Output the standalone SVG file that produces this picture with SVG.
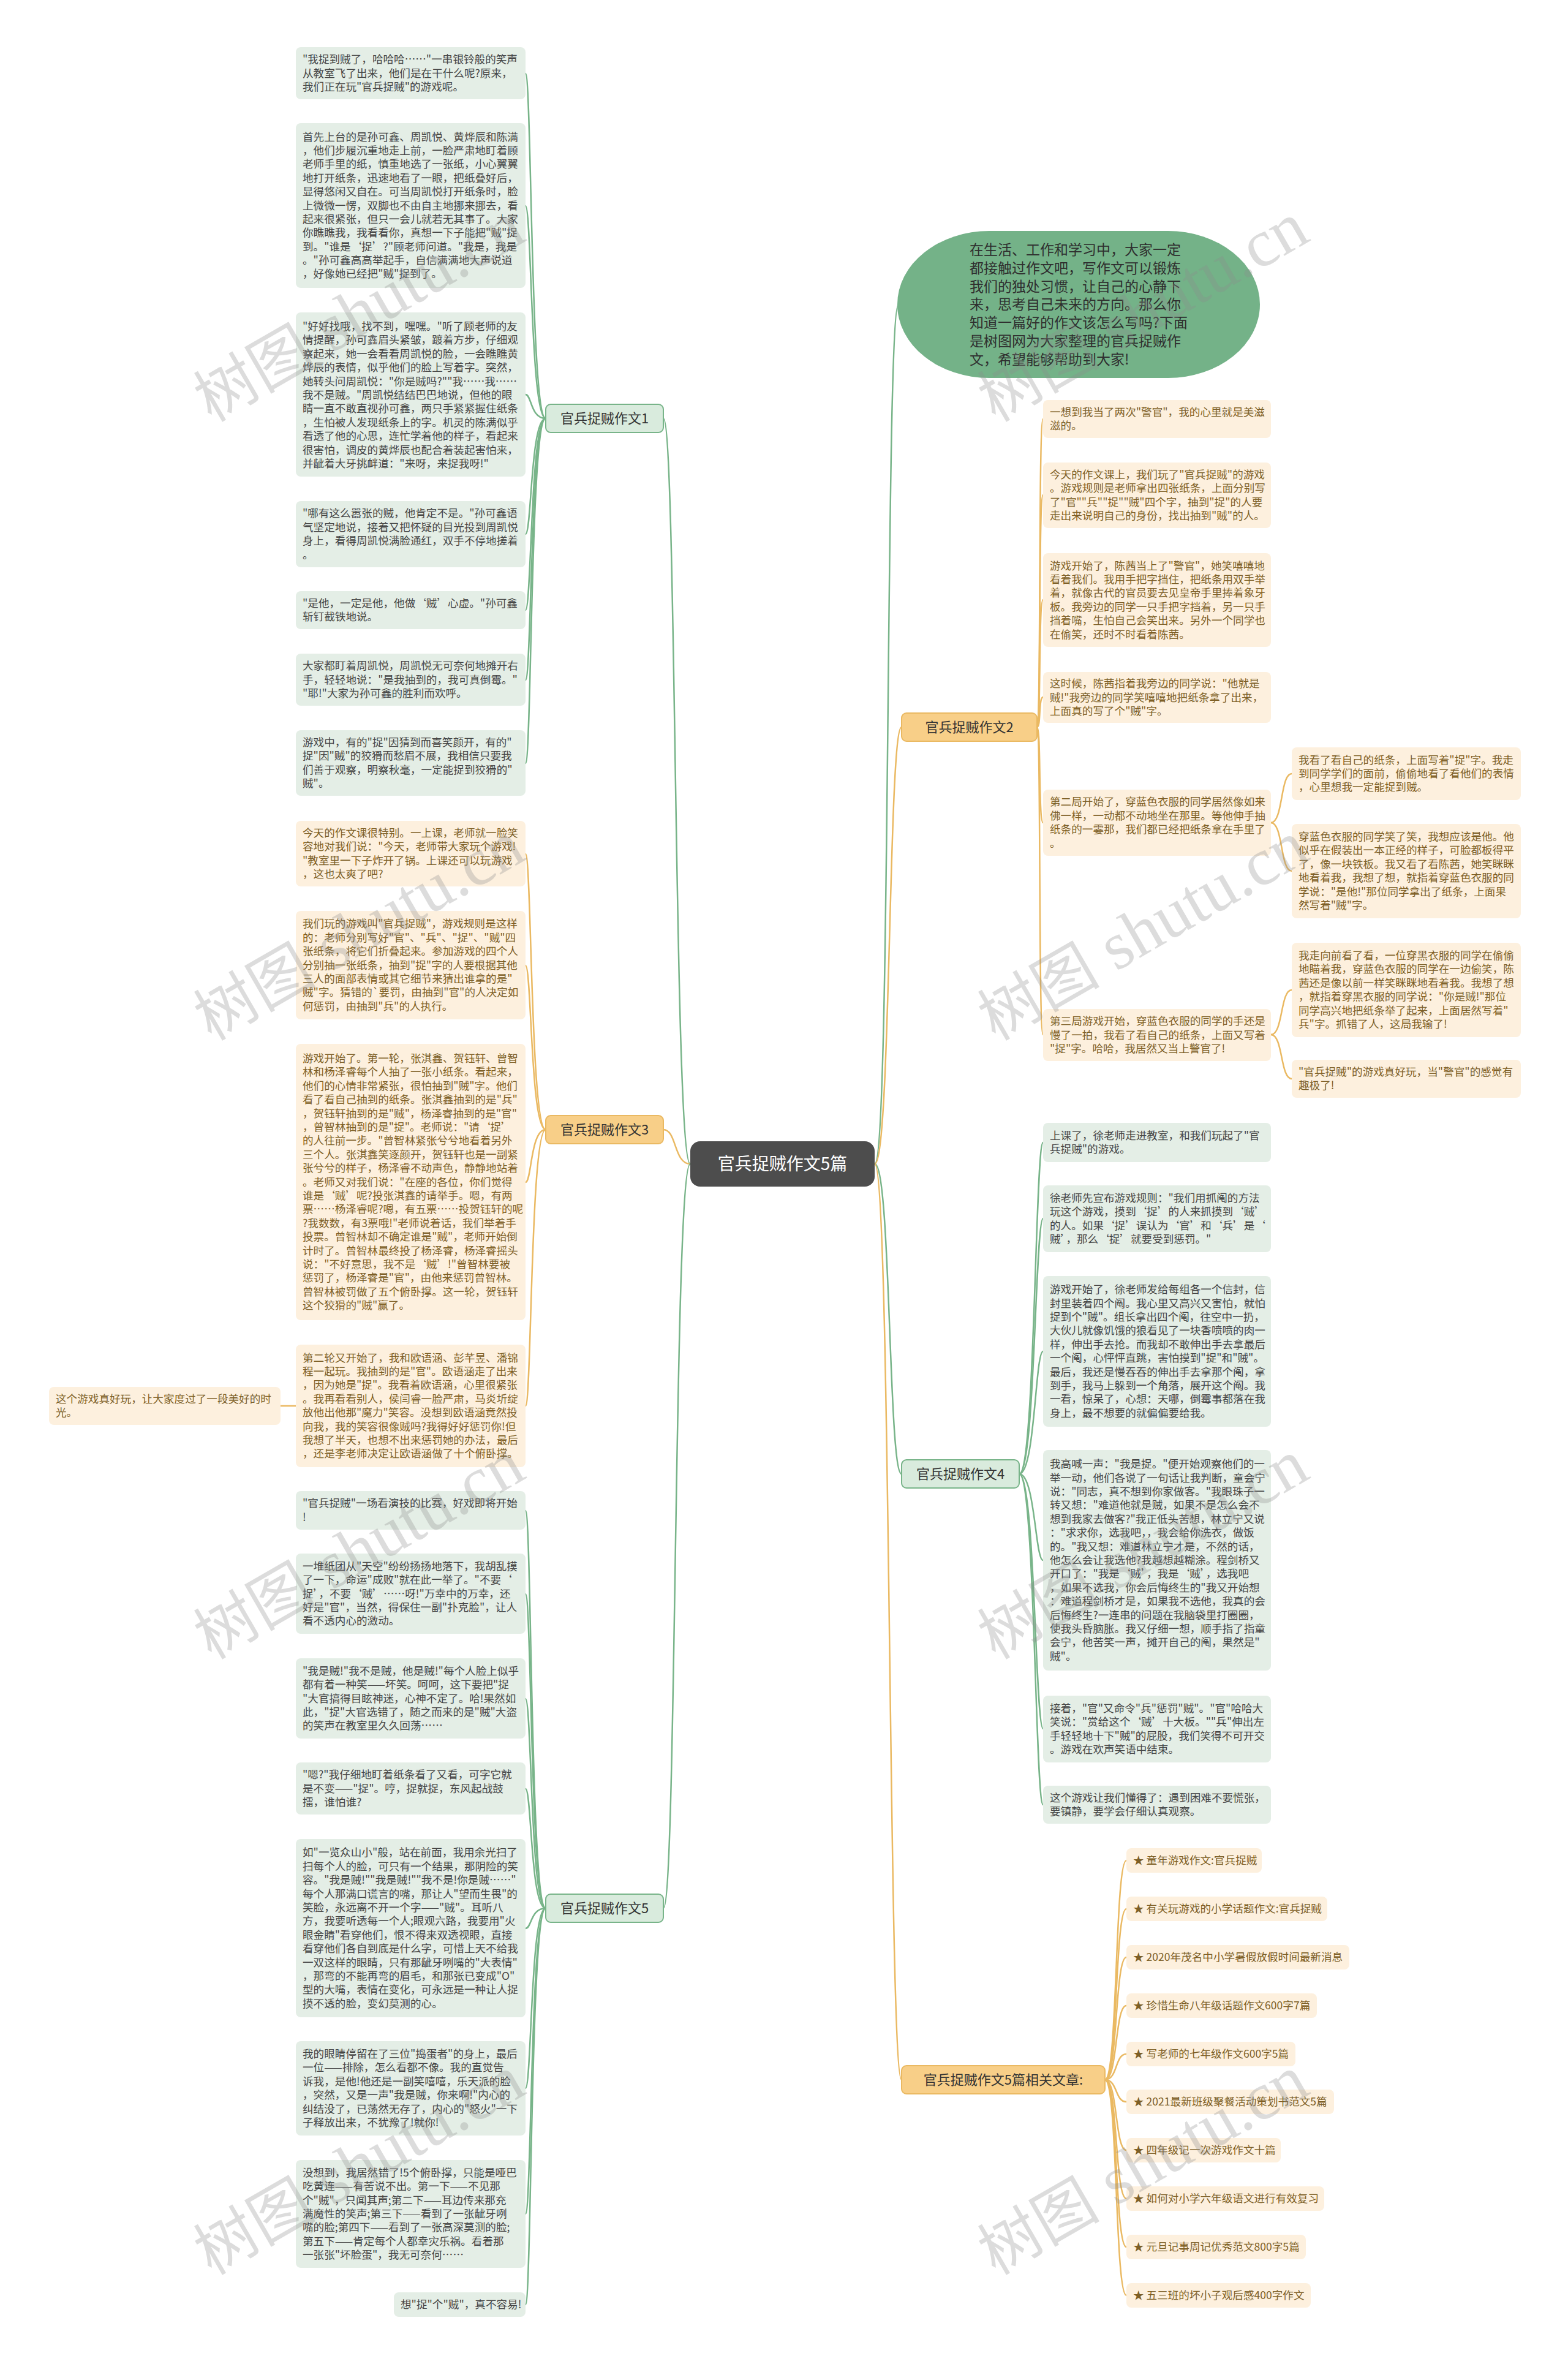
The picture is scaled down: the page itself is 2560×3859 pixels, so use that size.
<svg xmlns="http://www.w3.org/2000/svg" width="2560" height="3859" viewBox="0 0 2560 3859">
<style>
text{font-family:"Noto Sans CJK SC","Noto Sans",sans-serif;}
.bg{fill:#e4eee6;}
.bo{fill:#fdf0de;}
.tg{fill:#454545;font-size:17.6px;}
.to{fill:#7d5f26;font-size:17.6px;}
.lg{fill:none;stroke:#78b489;stroke-width:2.5;}
.lo{fill:none;stroke:#eab962;stroke-width:2.5;}
.labg{fill:#d9ebdd;stroke:#78b489;stroke-width:2;}
.labo{fill:#f8cf88;stroke:#eab962;stroke-width:2;}
.labt{font-size:22px;fill:#333;text-anchor:middle;}
.wm{font-family:"Liberation Serif",serif;font-size:110px;fill:#8a8a8a;fill-opacity:0.3;}
.wmc{font-family:"Noto Sans CJK SC",sans-serif;font-size:100px;fill:#8a8a8a;fill-opacity:0.3;}
</style>
<rect width="2560" height="3859" fill="#ffffff"/>

<g id="connectors">
<path class="lg" d="M1127,1900 C1100,1900 1105,683 1083,683"/>
<path class="lo" d="M1127,1900 C1100,1900 1105,1844 1083,1844"/>
<path class="lg" d="M1127,1900 C1100,1900 1105,3115 1083,3115"/>
<path class="lg" d="M1428,1900 C1455,1900 1445,497 1467,497"/>
<path class="lo" d="M1428,1900 C1455,1900 1450,1187 1472,1187"/>
<path class="lg" d="M1428,1900 C1455,1900 1450,2406 1472,2406"/>
<path class="lo" d="M1428,1900 C1455,1900 1450,3395 1472,3395"/>
<path class="lg" d="M891,683 C866,683 868,120 858,120"/>
<path class="lg" d="M891,683 C866,683 868,336 858,336"/>
<path class="lg" d="M891,683 C866,683 868,644 858,644"/>
<path class="lg" d="M891,683 C866,683 868,872 858,872"/>
<path class="lg" d="M891,683 C866,683 868,996 858,996"/>
<path class="lg" d="M891,683 C866,683 868,1110 858,1110"/>
<path class="lg" d="M891,683 C866,683 868,1246 858,1246"/>
<path class="lo" d="M891,1844 C866,1844 868,1394 858,1394"/>
<path class="lo" d="M891,1844 C866,1844 868,1576 858,1576"/>
<path class="lo" d="M891,1844 C866,1844 868,1930 858,1930"/>
<path class="lo" d="M891,1844 C866,1844 868,2295 858,2295"/>
<path class="lo" d="M483,2295 L458,2295"/>
<path class="lg" d="M891,3115 C866,3115 868,2466 858,2466"/>
<path class="lg" d="M891,3115 C866,3115 868,2602 858,2602"/>
<path class="lg" d="M891,3115 C866,3115 868,2773 858,2773"/>
<path class="lg" d="M891,3115 C866,3115 868,2920 858,2920"/>
<path class="lg" d="M891,3115 C866,3115 868,3148 858,3148"/>
<path class="lg" d="M891,3115 C866,3115 868,3409 858,3409"/>
<path class="lg" d="M891,3115 C866,3115 868,3614 858,3614"/>
<path class="lg" d="M891,3115 C866,3115 868,3762 858,3762"/>
<path class="lo" d="M1693,1187 C1700,1187 1695,684 1703,684"/>
<path class="lo" d="M1693,1187 C1700,1187 1695,808 1703,808"/>
<path class="lo" d="M1693,1187 C1700,1187 1695,979 1703,979"/>
<path class="lo" d="M1693,1187 C1700,1187 1695,1138 1703,1138"/>
<path class="lo" d="M1693,1187 C1700,1187 1695,1343 1703,1343"/>
<path class="lo" d="M1693,1187 C1700,1187 1695,1689 1703,1689"/>
<path class="lo" d="M2075,1343 C2095,1343 2090,1263 2109,1263"/>
<path class="lo" d="M2075,1343 C2095,1343 2090,1422 2109,1422"/>
<path class="lo" d="M2075,1689 C2095,1689 2090,1616 2109,1616"/>
<path class="lo" d="M2075,1689 C2095,1689 2090,1761 2109,1761"/>
<path class="lg" d="M1664,2406 C1690,2406 1690,1865 1703,1865"/>
<path class="lg" d="M1664,2406 C1690,2406 1690,1989 1703,1989"/>
<path class="lg" d="M1664,2406 C1690,2406 1690,2206 1703,2206"/>
<path class="lg" d="M1664,2406 C1690,2406 1690,2547 1703,2547"/>
<path class="lg" d="M1664,2406 C1690,2406 1690,2822 1703,2822"/>
<path class="lg" d="M1664,2406 C1690,2406 1690,2946 1703,2946"/>
<path class="lo" d="M1804,3395 C1825,3395 1820,3037 1839,3037"/>
<path class="lo" d="M1804,3395 C1825,3395 1820,3116 1839,3116"/>
<path class="lo" d="M1804,3395 C1825,3395 1820,3195 1839,3195"/>
<path class="lo" d="M1804,3395 C1825,3395 1820,3274 1839,3274"/>
<path class="lo" d="M1804,3395 C1825,3395 1820,3353 1839,3353"/>
<path class="lo" d="M1804,3395 C1825,3395 1820,3431 1839,3431"/>
<path class="lo" d="M1804,3395 C1825,3395 1820,3510 1839,3510"/>
<path class="lo" d="M1804,3395 C1825,3395 1820,3589 1839,3589"/>
<path class="lo" d="M1804,3395 C1825,3395 1820,3668 1839,3668"/>
<path class="lo" d="M1804,3395 C1825,3395 1820,3747 1839,3747"/>
</g>

<g id="center"><rect x="1127" y="1863" width="301" height="74" rx="16" fill="#4d4d4d"/><text x="1277.5" y="1910" font-size="28" fill="#ffffff" text-anchor="middle">官兵捉贼作文5篇</text></g>

<g id="intro"><rect x="1465" y="377" width="592" height="240" rx="150" ry="120" fill="#74b288"/>
<text x="1583" y="416" font-size="23" fill="#2f2f2f"><tspan x="1583">在生活、工作和学习中，大家一定</tspan><tspan x="1583" dy="29.8">都接触过作文吧，写作文可以锻炼</tspan><tspan x="1583" dy="29.8">我们的独处习惯，让自己的心静下</tspan><tspan x="1583" dy="29.8">来，思考自己未来的方向。那么你</tspan><tspan x="1583" dy="29.8">知道一篇好的作文该怎么写吗?下面</tspan><tspan x="1583" dy="29.8">是树图网为大家整理的官兵捉贼作</tspan><tspan x="1583" dy="29.8">文，希望能够帮助到大家!</tspan></text></g>

<g id="label1"><rect class="labg" x="891" y="660" width="192" height="46" rx="8"/><text class="labt" x="987" y="691">官兵捉贼作文1</text></g>
<g id="label3"><rect class="labo" x="891" y="1821" width="192" height="46" rx="8"/><text class="labt" x="987" y="1852">官兵捉贼作文3</text></g>
<g id="label5"><rect class="labg" x="891" y="3092" width="192" height="46" rx="8"/><text class="labt" x="987" y="3123">官兵捉贼作文5</text></g>
<g id="label2"><rect class="labo" x="1472" y="1164" width="221" height="46" rx="8"/><text class="labt" x="1582.5" y="1195">官兵捉贼作文2</text></g>
<g id="label4"><rect class="labg" x="1472" y="2383" width="192" height="46" rx="8"/><text class="labt" x="1568" y="2414">官兵捉贼作文4</text></g>
<g id="labelR"><rect class="labo" x="1472" y="3372" width="332" height="46" rx="8"/><text class="labt" x="1638" y="3403">官兵捉贼作文5篇相关文章:</text></g>

<g id="n1a"><rect class="bg" x="483" y="77" width="375" height="85" rx="8"/><text class="tg" x="494" y="103.1"><tspan x="494">"我捉到贼了，哈哈哈……"一串银铃般的笑声</tspan><tspan x="494" dy="22.4">从教室飞了出来，他们是在干什么呢?原来，</tspan><tspan x="494" dy="22.4">我们正在玩"官兵捉贼"的游戏呢。</tspan></text></g>
<g id="n1b"><rect class="bg" x="483" y="201" width="375" height="269" rx="8"/><text class="tg" x="494" y="229.5"><tspan x="494">首先上台的是孙可鑫、周凯悦、黄烨辰和陈满</tspan><tspan x="494" dy="22.4">，他们步履沉重地走上前，一脸严肃地盯着顾</tspan><tspan x="494" dy="22.4">老师手里的纸，慎重地选了一张纸，小心翼翼</tspan><tspan x="494" dy="22.4">地打开纸条，迅速地看了一眼，把纸叠好后，</tspan><tspan x="494" dy="22.4">显得悠闲又自在。可当周凯悦打开纸条时，脸</tspan><tspan x="494" dy="22.4">上微微一愣，双脚也不由自主地挪来挪去，看</tspan><tspan x="494" dy="22.4">起来很紧张，但只一会儿就若无其事了。大家</tspan><tspan x="494" dy="22.4">你瞧瞧我，我看看你，真想一下子能把"贼"捉</tspan><tspan x="494" dy="22.4">到。"谁是‘捉’?"顾老师问道。"我是，我是</tspan><tspan x="494" dy="22.4">。"孙可鑫高高举起手，自信满满地大声说道</tspan><tspan x="494" dy="22.4">，好像她已经把"贼"捉到了。</tspan></text></g>
<g id="n1c"><rect class="bg" x="483" y="510" width="375" height="268" rx="8"/><text class="tg" x="494" y="539"><tspan x="494">"好好找哦，找不到，嘿嘿。"听了顾老师的友</tspan><tspan x="494" dy="22.4">情提醒，孙可鑫眉头紧皱，踱着方步，仔细观</tspan><tspan x="494" dy="22.4">察起来，她一会看看周凯悦的脸，一会瞧瞧黄</tspan><tspan x="494" dy="22.4">烨辰的表情，似乎他们的脸上写着字。突然，</tspan><tspan x="494" dy="22.4">她转头问周凯悦："你是贼吗?""我……我……</tspan><tspan x="494" dy="22.4">我不是贼。"周凯悦结结巴巴地说，但他的眼</tspan><tspan x="494" dy="22.4">睛一直不敢直视孙可鑫，两只手紧紧握住纸条</tspan><tspan x="494" dy="22.4">，生怕被人发现纸条上的字。机灵的陈满似乎</tspan><tspan x="494" dy="22.4">看透了他的心思，连忙学着他的样子，看起来</tspan><tspan x="494" dy="22.4">很害怕，调皮的黄烨辰也配合着装起害怕来，</tspan><tspan x="494" dy="22.4">并龇着大牙挑衅道："来呀，来捉我呀!"</tspan></text></g>
<g id="n1d"><rect class="bg" x="483" y="818" width="375" height="108" rx="8"/><text class="tg" x="494" y="844.4"><tspan x="494">"哪有这么嚣张的贼，他肯定不是。"孙可鑫语</tspan><tspan x="494" dy="22.4">气坚定地说，接着又把怀疑的目光投到周凯悦</tspan><tspan x="494" dy="22.4">身上，看得周凯悦满脸通红，双手不停地搓着</tspan><tspan x="494" dy="22.4">。</tspan></text></g>
<g id="n1e"><rect class="bg" x="483" y="965" width="375" height="62" rx="8"/><text class="tg" x="494" y="990.8"><tspan x="494">"是他，一定是他，他做‘贼’心虚。"孙可鑫</tspan><tspan x="494" dy="22.4">斩钉截铁地说。</tspan></text></g>
<g id="n1f"><rect class="bg" x="483" y="1067" width="375" height="85" rx="8"/><text class="tg" x="494" y="1093.1"><tspan x="494">大家都盯着周凯悦，周凯悦无可奈何地摊开右</tspan><tspan x="494" dy="22.4">手，轻轻地说："是我抽到的，我可真倒霉。"</tspan><tspan x="494" dy="22.4">"耶!"大家为孙可鑫的胜利而欢呼。</tspan></text></g>
<g id="n1g"><rect class="bg" x="483" y="1192" width="375" height="107" rx="8"/><text class="tg" x="494" y="1217.9"><tspan x="494">游戏中，有的"捉"因猜到而喜笑颜开，有的"</tspan><tspan x="494" dy="22.4">捉"因"贼"的狡猾而愁眉不展，我相信只要我</tspan><tspan x="494" dy="22.4">们善于观察，明察秋毫，一定能捉到狡猾的"</tspan><tspan x="494" dy="22.4">贼"。</tspan></text></g>

<g id="n3a"><rect class="bo" x="483" y="1340" width="375" height="107" rx="8"/><text class="to" x="494" y="1365.9"><tspan x="494">今天的作文课很特别。一上课，老师就一脸笑</tspan><tspan x="494" dy="22.4">容地对我们说："今天，老师带大家玩个游戏!</tspan><tspan x="494" dy="22.4">"教室里一下子炸开了锅。上课还可以玩游戏</tspan><tspan x="494" dy="22.4">，这也太爽了吧?</tspan></text></g>
<g id="n3b"><rect class="bo" x="483" y="1487" width="375" height="177" rx="8"/><text class="to" x="494" y="1514.3"><tspan x="494">我们玩的游戏叫"官兵捉贼"，游戏规则是这样</tspan><tspan x="494" dy="22.4">的：老师分别写好"官"、"兵"、"捉"、"贼"四</tspan><tspan x="494" dy="22.4">张纸条，将它们折叠起来。参加游戏的四个人</tspan><tspan x="494" dy="22.4">分别抽一张纸条，抽到"捉"字的人要根据其他</tspan><tspan x="494" dy="22.4">三人的面部表情或其它细节来猜出谁拿的是"</tspan><tspan x="494" dy="22.4">贼"字。猜错的`要罚，由抽到"官"的人决定如</tspan><tspan x="494" dy="22.4">何惩罚，由抽到"兵"的人执行。</tspan></text></g>
<g id="n3c"><rect class="bo" x="483" y="1704" width="375" height="451" rx="8"/><text class="to" x="494" y="1733.9"><tspan x="494">游戏开始了。第一轮，张淇鑫、贺钰轩、曾智</tspan><tspan x="494" dy="22.4">林和杨泽睿每个人抽了一张小纸条。看起来，</tspan><tspan x="494" dy="22.4">他们的心情非常紧张，很怕抽到"贼"字。他们</tspan><tspan x="494" dy="22.4">看了看自己抽到的纸条。张淇鑫抽到的是"兵"</tspan><tspan x="494" dy="22.4">，贺钰轩抽到的是"贼"，杨泽睿抽到的是"官"</tspan><tspan x="494" dy="22.4">，曾智林抽到的是"捉"。老师说："请‘捉’</tspan><tspan x="494" dy="22.4">的人往前一步。"曾智林紧张兮兮地看着另外</tspan><tspan x="494" dy="22.4">三个人。张淇鑫笑逐颜开，贺钰轩也是一副紧</tspan><tspan x="494" dy="22.4">张兮兮的样子，杨泽睿不动声色，静静地站着</tspan><tspan x="494" dy="22.4">。老师又对我们说："在座的各位，你们觉得</tspan><tspan x="494" dy="22.4">谁是‘贼’呢?投张淇鑫的请举手。嗯，有两</tspan><tspan x="494" dy="22.4">票……杨泽睿呢?嗯，有五票……投贺钰轩的呢</tspan><tspan x="494" dy="22.4">?我数数，有3票哦!"老师说着话，我们举着手</tspan><tspan x="494" dy="22.4">投票。曾智林却不确定谁是"贼"，老师开始倒</tspan><tspan x="494" dy="22.4">计时了。曾智林最终投了杨泽睿，杨泽睿摇头</tspan><tspan x="494" dy="22.4">说："不好意思，我不是‘贼’!"曾智林要被</tspan><tspan x="494" dy="22.4">惩罚了，杨泽睿是"官"，由他来惩罚曾智林。</tspan><tspan x="494" dy="22.4">曾智林被罚做了五个俯卧撑。这一轮，贺钰轩</tspan><tspan x="494" dy="22.4">这个狡猾的"贼"赢了。</tspan></text></g>
<g id="n3d"><rect class="bo" x="483" y="2195" width="375" height="200" rx="8"/><text class="to" x="494" y="2222.6"><tspan x="494">第二轮又开始了，我和欧语涵、彭芊昱、潘锦</tspan><tspan x="494" dy="22.4">程一起玩。我抽到的是"官"。欧语涵走了出来</tspan><tspan x="494" dy="22.4">，因为她是"捉"。我看着欧语涵，心里很紧张</tspan><tspan x="494" dy="22.4">。我再看看别人，侯闫睿一脸严肃，马炎圻绽</tspan><tspan x="494" dy="22.4">放他出他那"魔力"笑容。没想到欧语涵竟然投</tspan><tspan x="494" dy="22.4">向我，我的笑容很像贼吗?我得好好惩罚你!但</tspan><tspan x="494" dy="22.4">我想了半天，也想不出来惩罚她的办法，最后</tspan><tspan x="494" dy="22.4">，还是李老师决定让欧语涵做了十个俯卧撑。</tspan></text></g>
<g id="n3e"><rect class="bo" x="80" y="2264" width="378" height="62" rx="8"/><text class="to" x="91" y="2289.8"><tspan x="91">这个游戏真好玩，让大家度过了一段美好的时</tspan><tspan x="91" dy="22.4">光。</tspan></text></g>

<g id="n5a"><rect class="bg" x="483" y="2434" width="375" height="63" rx="8"/><text class="tg" x="494" y="2460.3"><tspan x="494">"官兵捉贼"一场看演技的比赛，好戏即将开始</tspan><tspan x="494" dy="22.4">!</tspan></text></g>
<g id="n5b"><rect class="bg" x="483" y="2536" width="375" height="131" rx="8"/><text class="tg" x="494" y="2562.7"><tspan x="494">一堆纸团从"天空"纷纷扬扬地落下，我胡乱摸</tspan><tspan x="494" dy="22.4">了一下，命运"成败"就在此一举了。"不要‘</tspan><tspan x="494" dy="22.4">捉’，不要‘贼’……呀!"万幸中的万幸，还</tspan><tspan x="494" dy="22.4">好是"官"，当然，得保住一副"扑克脸"，让人</tspan><tspan x="494" dy="22.4">看不透内心的激动。</tspan></text></g>
<g id="n5c"><rect class="bg" x="483" y="2707" width="375" height="131" rx="8"/><text class="tg" x="494" y="2733.7"><tspan x="494">"我是贼!"我不是贼，他是贼!"每个人脸上似乎</tspan><tspan x="494" dy="22.4">都有着一种笑——坏笑。呵呵，这下要把"捉</tspan><tspan x="494" dy="22.4">"大官搞得目眩神迷，心神不定了。哈!果然如</tspan><tspan x="494" dy="22.4">此，"捉"大官选错了，随之而来的是"贼"大盗</tspan><tspan x="494" dy="22.4">的笑声在教室里久久回荡……</tspan></text></g>
<g id="n5d"><rect class="bg" x="483" y="2877" width="375" height="85" rx="8"/><text class="tg" x="494" y="2903.1"><tspan x="494">"嗯?"我仔细地盯着纸条看了又看，可字它就</tspan><tspan x="494" dy="22.4">是不变——"捉"。哼，捉就捉，东风起战鼓</tspan><tspan x="494" dy="22.4">擂，谁怕谁?</tspan></text></g>
<g id="n5e"><rect class="bg" x="483" y="3002" width="375" height="291" rx="8"/><text class="tg" x="494" y="3030.3"><tspan x="494">如"一览众山小"般，站在前面，我用余光扫了</tspan><tspan x="494" dy="22.4">扫每个人的脸，可只有一个结果，那阴险的笑</tspan><tspan x="494" dy="22.4">容。"我是贼!""我是贼!""我不是!你是贼……"</tspan><tspan x="494" dy="22.4">每个人那满口谎言的嘴，那让人"望而生畏"的</tspan><tspan x="494" dy="22.4">笑脸，永远离不开一个字——"贼"。耳听八</tspan><tspan x="494" dy="22.4">方，我要听透每一个人;眼观六路，我要用"火</tspan><tspan x="494" dy="22.4">眼金睛"看穿他们，恨不得来双透视眼，直接</tspan><tspan x="494" dy="22.4">看穿他们各自到底是什么字，可惜上天不给我</tspan><tspan x="494" dy="22.4">一双这样的眼睛，只有那龇牙咧嘴的"大表情"</tspan><tspan x="494" dy="22.4">，那弯的不能再弯的眉毛，和那张已变成"O"</tspan><tspan x="494" dy="22.4">型的大嘴，表情在变化，可永远是一种让人捉</tspan><tspan x="494" dy="22.4">摸不透的脸，变幻莫测的心。</tspan></text></g>
<g id="n5f"><rect class="bg" x="483" y="3332" width="375" height="154" rx="8"/><text class="tg" x="494" y="3359"><tspan x="494">我的眼睛停留在了三位"捣蛋者"的身上，最后</tspan><tspan x="494" dy="22.4">一位——排除，怎么看都不像。我的直觉告</tspan><tspan x="494" dy="22.4">诉我，是他!他还是一副笑嘻嘻，乐天派的脸</tspan><tspan x="494" dy="22.4">，突然，又是一声"我是贼，你来啊!"内心的</tspan><tspan x="494" dy="22.4">纠结没了，已荡然无存了，内心的"怒火"一下</tspan><tspan x="494" dy="22.4">子释放出来，不犹豫了!就你!</tspan></text></g>
<g id="n5g"><rect class="bg" x="483" y="3526" width="375" height="176" rx="8"/><text class="tg" x="494" y="3552.8"><tspan x="494">没想到，我居然错了!5个俯卧撑，只能是哑巴</tspan><tspan x="494" dy="22.4">吃黄连——有苦说不出。第一下——不见那</tspan><tspan x="494" dy="22.4">个"贼"，只闻其声;第二下——耳边传来那充</tspan><tspan x="494" dy="22.4">满魔性的笑声;第三下——看到了一张龇牙咧</tspan><tspan x="494" dy="22.4">嘴的脸;第四下——看到了一张高深莫测的脸;</tspan><tspan x="494" dy="22.4">第五下——肯定每个人都幸灾乐祸。看着那</tspan><tspan x="494" dy="22.4">一张张"坏脸蛋"，我无可奈何……</tspan></text></g>
<g id="n5h"><rect class="bg" x="643" y="3742" width="215" height="40" rx="8"/><text class="tg" x="654" y="3768"><tspan x="654">想"捉"个"贼"，真不容易!</tspan></text></g>

<g id="n2a"><rect class="bo" x="1703" y="653" width="372" height="62" rx="8"/><text class="to" x="1714" y="678.8"><tspan x="1714">一想到我当了两次"警官"，我的心里就是美滋</tspan><tspan x="1714" dy="22.4">滋的。</tspan></text></g>
<g id="n2b"><rect class="bo" x="1703" y="755" width="372" height="107" rx="8"/><text class="to" x="1714" y="780.9"><tspan x="1714">今天的作文课上，我们玩了"官兵捉贼"的游戏</tspan><tspan x="1714" dy="22.4">。游戏规则是老师拿出四张纸条，上面分别写</tspan><tspan x="1714" dy="22.4">了"官""兵""捉""贼"四个字，抽到"捉"的人要</tspan><tspan x="1714" dy="22.4">走出来说明自己的身份，找出抽到"贼"的人。</tspan></text></g>
<g id="n2c"><rect class="bo" x="1703" y="903" width="372" height="153" rx="8"/><text class="to" x="1714" y="929.5"><tspan x="1714">游戏开始了，陈茜当上了"警官"，她笑嘻嘻地</tspan><tspan x="1714" dy="22.4">看着我们。我用手把字挡住，把纸条用双手举</tspan><tspan x="1714" dy="22.4">着，就像古代的官员要去见皇帝手里捧着象牙</tspan><tspan x="1714" dy="22.4">板。我旁边的同学一只手把字挡着，另一只手</tspan><tspan x="1714" dy="22.4">挡着嘴，生怕自己会笑出来。另外一个同学也</tspan><tspan x="1714" dy="22.4">在偷笑，还时不时看着陈茜。</tspan></text></g>
<g id="n2d"><rect class="bo" x="1703" y="1097" width="372" height="83" rx="8"/><text class="to" x="1714" y="1122.1"><tspan x="1714">这时候，陈茜指着我旁边的同学说："他就是</tspan><tspan x="1714" dy="22.4">贼!"我旁边的同学笑嘻嘻地把纸条拿了出来，</tspan><tspan x="1714" dy="22.4">上面真的写了个"贼"字。</tspan></text></g>
<g id="n2e"><rect class="bo" x="1703" y="1289" width="372" height="108" rx="8"/><text class="to" x="1714" y="1315.4"><tspan x="1714">第二局开始了，穿蓝色衣服的同学居然像如来</tspan><tspan x="1714" dy="22.4">佛一样，一动都不动地坐在那里。等他伸手抽</tspan><tspan x="1714" dy="22.4">纸条的一霎那，我们都已经把纸条拿在手里了</tspan><tspan x="1714" dy="22.4">。</tspan></text></g>
<g id="n2e1"><rect class="bo" x="2109" y="1220" width="374" height="86" rx="8"/><text class="to" x="2120" y="1246.6"><tspan x="2120">我看了看自己的纸条，上面写着"捉"字。我走</tspan><tspan x="2120" dy="22.4">到同学学们的面前，偷偷地看了看他们的表情</tspan><tspan x="2120" dy="22.4">，心里想我一定能捉到贼。</tspan></text></g>
<g id="n2e2"><rect class="bo" x="2109" y="1345" width="374" height="154" rx="8"/><text class="to" x="2120" y="1372"><tspan x="2120">穿蓝色衣服的同学笑了笑，我想应该是他。他</tspan><tspan x="2120" dy="22.4">似乎在假装出一本正经的样子，可脸都板得平</tspan><tspan x="2120" dy="22.4">了，像一块铁板。我又看了看陈茜，她笑眯眯</tspan><tspan x="2120" dy="22.4">地看着我，我想了想，就指着穿蓝色衣服的同</tspan><tspan x="2120" dy="22.4">学说："是他!"那位同学拿出了纸条，上面果</tspan><tspan x="2120" dy="22.4">然写着"贼"字。</tspan></text></g>
<g id="n2f"><rect class="bo" x="1703" y="1647" width="372" height="85" rx="8"/><text class="to" x="1714" y="1673.1"><tspan x="1714">第三局游戏开始，穿蓝色衣服的同学的手还是</tspan><tspan x="1714" dy="22.4">慢了一拍，我看了看自己的纸条，上面又写着</tspan><tspan x="1714" dy="22.4">"捉"字。哈哈，我居然又当上警官了!</tspan></text></g>
<g id="n2f1"><rect class="bo" x="2109" y="1539" width="374" height="154" rx="8"/><text class="to" x="2120" y="1566"><tspan x="2120">我走向前看了看，一位穿黑衣服的同学在偷偷</tspan><tspan x="2120" dy="22.4">地瞄着我，穿蓝色衣服的同学在一边偷笑，陈</tspan><tspan x="2120" dy="22.4">茜还是像以前一样笑眯眯地看着我。我想了想</tspan><tspan x="2120" dy="22.4">，就指着穿黑衣服的同学说："你是贼!"那位</tspan><tspan x="2120" dy="22.4">同学高兴地把纸条举了起来，上面居然写着"</tspan><tspan x="2120" dy="22.4">兵"字。抓错了人，这局我输了!</tspan></text></g>
<g id="n2f2"><rect class="bo" x="2109" y="1730" width="374" height="62" rx="8"/><text class="to" x="2120" y="1755.8"><tspan x="2120">"官兵捉贼"的游戏真好玩，当"警官"的感觉有</tspan><tspan x="2120" dy="22.4">趣极了!</tspan></text></g>

<g id="n4a"><rect class="bg" x="1703" y="1833" width="372" height="64" rx="8"/><text class="tg" x="1714" y="1859.8"><tspan x="1714">上课了，徐老师走进教室，和我们玩起了"官</tspan><tspan x="1714" dy="22.4">兵捉贼"的游戏。</tspan></text></g>
<g id="n4b"><rect class="bg" x="1703" y="1935" width="372" height="109" rx="8"/><text class="tg" x="1714" y="1961.9"><tspan x="1714">徐老师先宣布游戏规则："我们用抓阄的方法</tspan><tspan x="1714" dy="22.4">玩这个游戏，摸到‘捉’的人来抓摸到‘贼’</tspan><tspan x="1714" dy="22.4">的人。如果‘捉’误认为‘官’和‘兵’是‘</tspan><tspan x="1714" dy="22.4">贼’，那么‘捉’就要受到惩罚。"</tspan></text></g>
<g id="n4c"><rect class="bg" x="1703" y="2083" width="372" height="246" rx="8"/><text class="tg" x="1714" y="2111.2"><tspan x="1714">游戏开始了，徐老师发给每组各一个信封，信</tspan><tspan x="1714" dy="22.4">封里装着四个阄。我心里又高兴又害怕，就怕</tspan><tspan x="1714" dy="22.4">捉到个"贼"。组长拿出四个阄，往空中一扔，</tspan><tspan x="1714" dy="22.4">大伙儿就像饥饿的狼看见了一块香喷喷的肉一</tspan><tspan x="1714" dy="22.4">样，伸出手去抢。而我却不敢伸出手去拿最后</tspan><tspan x="1714" dy="22.4">一个阄，心怦怦直跳，害怕摸到"捉"和"贼"。</tspan><tspan x="1714" dy="22.4">最后，我还是慢吞吞的伸出手去拿那个阄，拿</tspan><tspan x="1714" dy="22.4">到手，我马上躲到一个角落，展开这个阄。我</tspan><tspan x="1714" dy="22.4">一看，惊呆了，心想：天哪，倒霉事都落在我</tspan><tspan x="1714" dy="22.4">身上，最不想要的就偏偏要给我。</tspan></text></g>
<g id="n4d"><rect class="bg" x="1703" y="2367" width="372" height="360" rx="8"/><text class="tg" x="1714" y="2396.2"><tspan x="1714">我高喊一声："我是捉。"便开始观察他们的一</tspan><tspan x="1714" dy="22.4">举一动，他们各说了一句话让我判断，童会宁</tspan><tspan x="1714" dy="22.4">说："同志，真不想到你家做客。"我眼珠子一</tspan><tspan x="1714" dy="22.4">转又想："难道他就是贼，如果不是怎么会不</tspan><tspan x="1714" dy="22.4">想到我家去做客?"我正低头苦想，林立宁又说</tspan><tspan x="1714" dy="22.4">："求求你，选我吧，，我会给你洗衣，做饭</tspan><tspan x="1714" dy="22.4">的。"我又想：难道林立宁才是，不然的话，</tspan><tspan x="1714" dy="22.4">他怎么会让我选他?我越想越糊涂。程剑桥又</tspan><tspan x="1714" dy="22.4">开口了："我是‘贼’，我是‘贼’，选我吧</tspan><tspan x="1714" dy="22.4">，如果不选我，你会后悔终生的"我又开始想</tspan><tspan x="1714" dy="22.4">：难道程剑桥才是，如果我不选他，我真的会</tspan><tspan x="1714" dy="22.4">后悔终生?一连串的问题在我脑袋里打圈圈，</tspan><tspan x="1714" dy="22.4">使我头昏脑胀。我又仔细一想，顺手指了指童</tspan><tspan x="1714" dy="22.4">会宁，他苦笑一声，摊开自己的阄，果然是"</tspan><tspan x="1714" dy="22.4">贼"。</tspan></text></g>
<g id="n4e"><rect class="bg" x="1703" y="2768" width="372" height="109" rx="8"/><text class="tg" x="1714" y="2794.9"><tspan x="1714">接着，"官"又命令"兵"惩罚"贼"。"官"哈哈大</tspan><tspan x="1714" dy="22.4">笑说："赏给这个‘贼’十大板。""兵"伸出左</tspan><tspan x="1714" dy="22.4">手轻轻地十下"贼"的屁股，我们笑得不可开交</tspan><tspan x="1714" dy="22.4">。游戏在欢声笑语中结束。</tspan></text></g>
<g id="n4f"><rect class="bg" x="1703" y="2915" width="372" height="62" rx="8"/><text class="tg" x="1714" y="2940.8"><tspan x="1714">这个游戏让我们懂得了：遇到困难不要慌张，</tspan><tspan x="1714" dy="22.4">要镇静，要学会仔细认真观察。</tspan></text></g>

<g id="r1"><rect class="bo" x="1839" y="3017" width="221" height="40" rx="8"/><text class="to" x="1850" y="3043">★ 童年游戏作文:官兵捉贼</text></g>
<g id="r2"><rect class="bo" x="1839" y="3096" width="328" height="40" rx="8"/><text class="to" x="1850" y="3122">★ 有关玩游戏的小学话题作文:官兵捉贼</text></g>
<g id="r3"><rect class="bo" x="1839" y="3175" width="364" height="40" rx="8"/><text class="to" x="1850" y="3201">★ 2020年茂名中小学暑假放假时间最新消息</text></g>
<g id="r4"><rect class="bo" x="1839" y="3254" width="311" height="40" rx="8"/><text class="to" x="1850" y="3280">★ 珍惜生命八年级话题作文600字7篇</text></g>
<g id="r5"><rect class="bo" x="1839" y="3333" width="276" height="40" rx="8"/><text class="to" x="1850" y="3359">★ 写老师的七年级作文600字5篇</text></g>
<g id="r6"><rect class="bo" x="1839" y="3411" width="339" height="40" rx="8"/><text class="to" x="1850" y="3437">★ 2021最新班级聚餐活动策划书范文5篇</text></g>
<g id="r7"><rect class="bo" x="1839" y="3490" width="252" height="40" rx="8"/><text class="to" x="1850" y="3516">★ 四年级记一次游戏作文十篇</text></g>
<g id="r8"><rect class="bo" x="1839" y="3569" width="323" height="40" rx="8"/><text class="to" x="1850" y="3595">★ 如何对小学六年级语文进行有效复习</text></g>
<g id="r9"><rect class="bo" x="1839" y="3648" width="293" height="40" rx="8"/><text class="to" x="1850" y="3674">★ 元旦记事周记优秀范文800字5篇</text></g>
<g id="r10"><rect class="bo" x="1839" y="3727" width="301" height="40" rx="8"/><text class="to" x="1850" y="3753">★ 五三班的坏小子观后感400字作文</text></g>

<g id="watermark">
<text class="wm" transform="translate(345,690) rotate(-30)"><tspan class="wmc">树图</tspan> shutu.cn</text>
<text class="wm" transform="translate(1625,690) rotate(-30)"><tspan class="wmc">树图</tspan> shutu.cn</text>
<text class="wm" transform="translate(345,1700) rotate(-30)"><tspan class="wmc">树图</tspan> shutu.cn</text>
<text class="wm" transform="translate(1625,1700) rotate(-30)"><tspan class="wmc">树图</tspan> shutu.cn</text>
<text class="wm" transform="translate(345,2710) rotate(-30)"><tspan class="wmc">树图</tspan> shutu.cn</text>
<text class="wm" transform="translate(1625,2710) rotate(-30)"><tspan class="wmc">树图</tspan> shutu.cn</text>
<text class="wm" transform="translate(345,3715) rotate(-30)"><tspan class="wmc">树图</tspan> shutu.cn</text>
<text class="wm" transform="translate(1625,3715) rotate(-30)"><tspan class="wmc">树图</tspan> shutu.cn</text>
</g>
</svg>
